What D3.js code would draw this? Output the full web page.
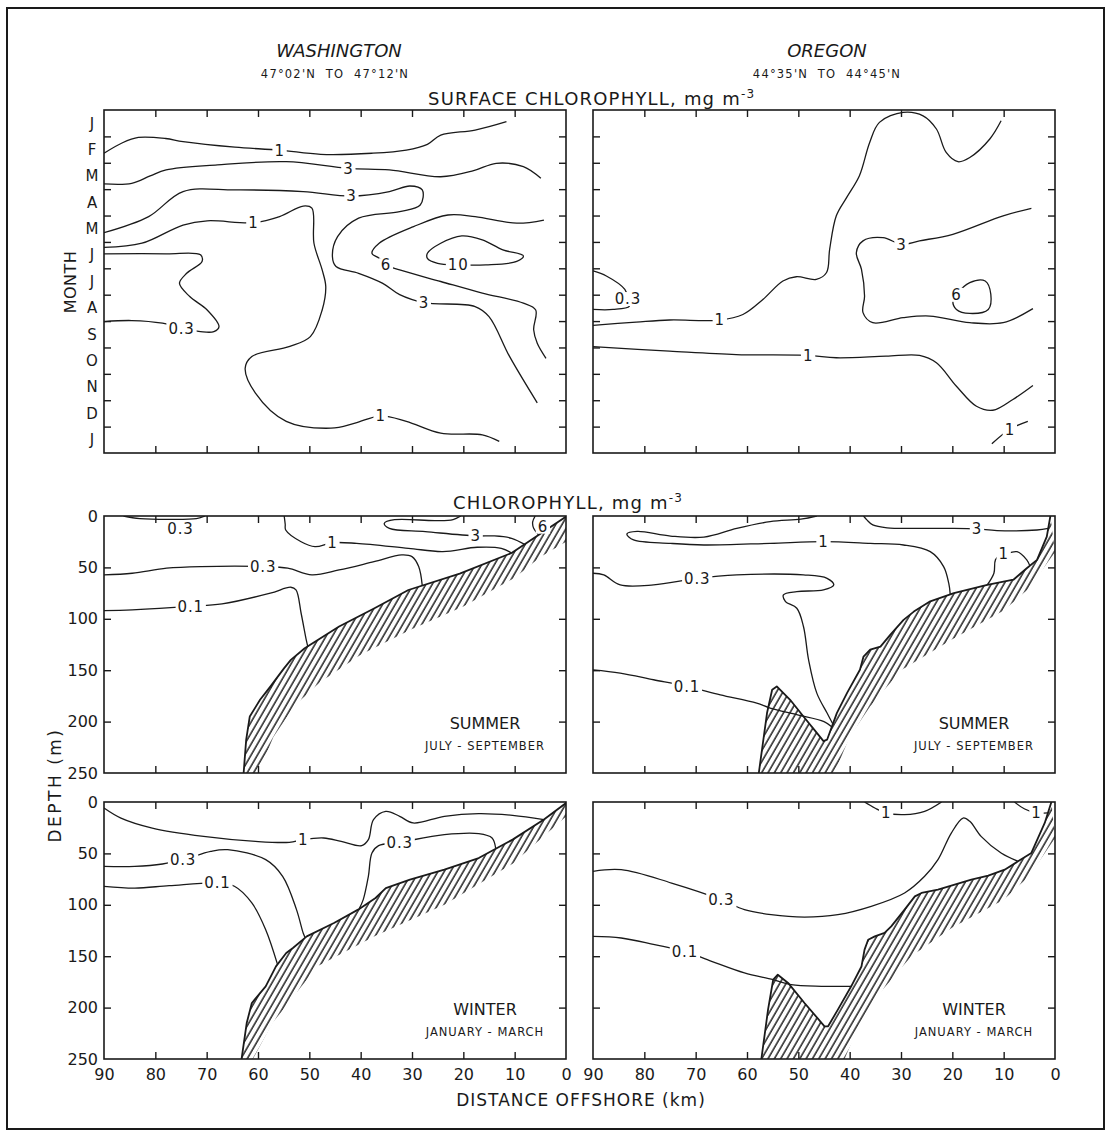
<!DOCTYPE html>
<html><head><meta charset="utf-8">
<script src="https://cdn.jsdelivr.net/npm/d3@7"></script>
<style>
body{margin:0;background:#fff}
svg text{font-family:"DejaVu Sans",sans-serif;fill:#1a1a1a}
</style></head><body>
<svg id="c" width="1112" height="1137"></svg>
<script>
// ---------------- DATA ----------------
const months = ["J","F","M","A","M","J","J","A","S","O","N","D","J"];
const kmTicks = [90,80,70,60,50,40,30,20,10,0];
const depthTicks = [0,50,100,150,200,250];

// Surface chlorophyll, Washington: [km offshore, month index (0 = start Jan)]
const waSurfaceContours = [
 {level:"1", labs:[[55.8,1.52]], pts:[[90,1.64],[86.5,1.25],[83.3,1.04],[78,1.08],[74.6,1.2],[64.5,1.41],[55.8,1.52],[47.8,1.68],[37.8,1.64],[31.1,1.52],[27,1.3],[24.4,0.95],[17.7,0.76],[11.6,0.44]]},
 {level:"3", labs:[[42.4,2.21]], pts:[[90,2.8],[84.6,2.78],[81,2.5],[77.9,2.27],[67.9,2.08],[54.5,1.96],[42.4,2.21],[34.4,2.27],[24.4,2.53],[18,2.3],[13.6,2.02],[8.3,2.15],[4.9,2.59]]},
 {level:"3", labs:[[41.8,3.26],[27.7,7.3]], pts:[[90,4.65],[81.3,4.04],[74.6,3.09],[64.5,3.03],[51.2,3.09],[41.8,3.26],[34.4,3.09],[30.4,2.88],[28,3.03],[28.4,3.6],[32.4,3.85],[40.4,4.1],[44.5,4.8],[45.5,5.56],[44.8,5.93],[40.4,6.19],[35.7,6.57],[32.4,7.0],[27.7,7.3],[17.7,7.45],[15.0,7.83],[11.0,9.34],[5.6,11.1]]},
 {level:"1", labs:[[60.9,4.27],[36.1,11.59]], pts:[[90,5.21],[82.6,5.05],[74.6,4.36],[69.9,4.2],[60.9,4.27],[55.8,4.04],[51.2,3.64],[49.5,3.72],[49.1,5.05],[47.5,6.06],[46.8,6.69],[47.5,7.58],[49.8,8.59],[53.8,8.96],[61.2,9.34],[62.5,9.79],[60.5,10.73],[54.5,11.8],[45.8,12.06],[41.1,11.87],[36.1,11.59],[31.1,11.8],[24.4,12.25],[16.3,12.31],[13.0,12.56]]},
 {level:"0.3", labs:[[74.9,8.27]], pts:[[90,5.45],[77.9,5.45],[71.2,5.49],[70.9,5.74],[73.9,6.19],[75.3,6.57],[73.3,7.07],[69.9,7.58],[67.6,8.21],[68.6,8.4],[71.2,8.4],[74.9,8.27],[78.6,8.08],[84.6,7.98],[90,8.02]]},
 {level:"6", labs:[[35.1,5.87]], pts:[[4.3,4.17],[9.6,4.29],[17.7,4.04],[23.0,3.98],[29.7,4.42],[36.4,5.05],[37.8,5.43],[36.4,5.62],[35.1,5.87],[32.4,6.06],[24.4,6.5],[16.3,6.94],[8.3,7.32],[5.9,7.58],[6.3,8.33],[5.6,8.84],[3.9,9.41]]},
 {level:"10", closed:true, labs:[[21.0,5.87]], pts:[[27.0,5.43],[24.4,5.05],[20.3,4.77],[16.3,4.92],[12.3,5.3],[8.3,5.53],[9.6,5.74],[15.6,5.87],[21.0,5.87],[25.0,5.81],[27.0,5.62]]}
];

// Surface chlorophyll, Oregon
const orSurfaceContours = [
 {level:"1", labs:[[65.3,7.96]], pts:[[90,8.16],[81.6,8.04],[75.1,7.96],[65.3,7.96],[60.8,7.75],[56.9,7.18],[53,6.48],[50.4,6.32],[46.5,6.42],[44.5,6.16],[43.9,5.28],[42.6,4.01],[40.6,3.32],[38.1,2.49],[36.1,1.23],[34.2,0.47],[29.6,0.09],[25.7,0.22],[23.1,0.72],[21.2,1.61],[18.9,1.96],[16.6,1.8],[12.7,1.1],[10.5,0.41]]},
 {level:"1", labs:[[48.1,9.3]], pts:[[90,8.97],[75.1,9.14],[62.1,9.27],[48.1,9.3],[42.6,9.39],[32.9,9.33],[26.4,9.3],[23.1,9.58],[19.2,10.47],[15.3,11.23],[12.1,11.38],[8.2,10.97],[4.3,10.44]]},
 {level:"3", labs:[[29.9,5.09]], pts:[[4.6,3.73],[10.1,4.01],[19.9,4.71],[26.4,4.96],[29.9,5.09],[33.5,4.84],[37.4,4.96],[38.7,5.41],[37.7,6.04],[37.1,7.05],[37.4,7.68],[35.5,8.06],[29.6,7.87],[24.4,7.81],[16.6,8.06],[10.1,8.06],[4.3,7.53]]},
 {level:"6", closed:true, labs:[[19.2,6.99]], pts:[[19.2,6.99],[16.6,6.54],[13.6,6.48],[12.5,6.99],[13.0,7.56],[16.6,7.71],[19.2,7.56],[19.9,7.24]]},
 {level:"0.3", labs:[[83.2,7.15]], pts:[[90,6.1],[87.4,6.29],[83.8,6.8],[83.2,7.15],[82.9,7.43],[86.1,7.56],[90,7.56]]},
 {level:"1", labs:[[8.8,12.1]], pts:[[12.3,12.65],[8.8,12.1],[5.3,11.8]]}
];

// Chlorophyll sections: [km offshore, depth m]
const waSummerBottom = [[0,0.6],[10.6,36],[20.7,56],[30.7,72],[37.4,90],[44.2,107.5],[50.9,128.6],[53.6,140],[54.9,148],[57.6,166],[59.6,178.8],[61.6,195],[62.3,217.6],[62.8,250]];
const waSummerHatchEdge = [[0,25],[5,40],[10,60],[20,88],[30,110],[40,135],[48,162],[53,185],[57,215],[60,250]];
const waSummerContours = [
 {level:"0.3", labs:[[75.1,12.6]], pts:[[86.2,0],[83,2.5],[77,3.3],[72,2.5],[70.3,0]]},
 {level:"1", labs:[[45.5,26]], pts:[[54.9,0],[54.7,8],[54.6,13.6],[51.6,25],[48.9,29.8],[45.5,26],[40.8,26.6],[30.7,31.4],[24,34.6],[17.3,30.4],[12.6,31.4],[10.6,36]]},
 {level:"3", labs:[[17.6,19.4]], pts:[[20.5,0],[22,3.5],[25.4,4.5],[33.4,3.6],[35.4,7.1],[34.4,12],[27.4,15.2],[17.6,19.4],[14,19.4],[10.6,21.7],[7.9,28]]},
 {level:"6", labs:[[4.5,10]], pts:[[6.0,0],[6.5,6],[6.3,12],[5.4,18]]},
 {level:"0.3", labs:[[59,49.2]], pts:[[90,57.3],[84.5,55.7],[77.8,50.8],[71.1,49.2],[59,49.2],[54.2,50.8],[49.5,57.3],[44.2,52.5],[37.4,44.4],[32,37.9],[30,39.5],[28.7,49.2],[28,67.7]]},
 {level:"0.1", labs:[[73.1,88]], pts:[[90,92],[84.5,91.3],[73.1,88],[67,85.5],[57.6,75.1],[53.6,69.3],[52.6,71.9],[51.6,94.6],[50.6,120.5],[50.3,127]]}
];

const orSummerBottom = [[0.9,0],[1.6,20],[3.5,42.7],[5.5,50.8],[8.1,62],[13.2,67],[19.7,75],[24.3,83],[27.5,93],[29.5,101],[32.1,115.6],[34,127],[36,130],[37.3,136.7],[38,149.6],[40.5,172],[42.5,191.7],[44.4,217.6],[45.1,219],[46.4,211],[49,195],[51.6,178.8],[54.2,165.8],[55.1,169],[56.1,191.7],[57.7,250]];
const orSummerHatchEdge = [[0,35],[5,70],[10,92],[20,120],[30,150],[36,185],[40,215],[43,250]];
const orSummerContours = [
 {level:"3", labs:[[15.2,12.6]], pts:[[37.3,0],[36.6,4],[35.5,8.7],[32.7,11.5],[26.2,12],[19.7,12],[15.2,12.6],[11.3,14.2],[3.5,13.6],[1.3,12]]},
 {level:"1", labs:[[45.1,25]], pts:[[46.4,0],[49.5,3],[55.5,5.5],[62,12],[68.4,20.5],[74.9,19.5],[81.4,15],[83.4,17.5],[82.1,23.3],[74.9,26.6],[68.4,28.2],[55.5,26.6],[45.1,25],[36,26.6],[29.5,28.2],[24.3,34.7],[21.7,49.2],[20.7,65.4],[20.4,76.5]]},
 {level:"1", labs:[[10,37]], pts:[[13.2,67],[11.9,55.7],[11.6,42.7],[10.6,37.9],[10,37.5],[7.4,34.7],[5.5,42.7],[4.9,48.5]]},
 {level:"0.3", labs:[[69.7,60.6]], pts:[[90,55.7],[87.9,57.3],[84.7,67],[78.2,67],[69.7,60.6],[62,57.3],[49,57.3],[44.4,60.6],[43.1,67],[45.1,71.9],[50.3,73.5],[52.9,76.7],[52.5,83.2],[50.3,89.7],[49,107.5],[48,140],[46.4,172.3],[44.4,191.7],[43.2,203]]},
 {level:"0.1", labs:[[71.7,165.8]], pts:[[90,149.6],[84.7,152.8],[78.2,159.3],[71.7,165.8],[65.2,173.9],[58.1,182],[55.5,186.8],[50.3,193.3],[45,200],[43.5,205]]}
];

const waWinterBottom = [[0,1],[4.3,17],[10.4,36.6],[17,54.5],[23.7,65.8],[30.4,75.5],[35.1,83.7],[37.1,93.4],[40.5,104.7],[45.2,117.7],[50.5,130.7],[53.2,142],[54.5,146.9],[56.5,159.9],[58.5,179.3],[61.2,195.5],[62.2,215],[63.2,250]];
const waWinterHatchEdge = [[0,14],[10.4,60],[23.7,100],[37.1,130],[48.5,160],[53.2,190],[57.2,215],[61,250]];
const waWinterContours = [
 {level:"1", labs:[[51.2,36.5]], pts:[[90,5.8],[86.7,15.6],[80.6,25.3],[70.6,33.4],[60.5,38.3],[53.9,39.2],[51.2,36.5],[47.2,35],[43.8,38.3],[39.8,42.5],[38.5,36.6],[37.5,17.2],[35.1,9.1],[32.4,13.9],[29.8,20.4],[23.7,13.9],[17,11.3],[10.4,13],[4.3,17.2]]},
 {level:"0.3", labs:[[74.6,56.1]], pts:[[90,62.6],[84,62.6],[78.6,60.3],[74.6,56.1],[69.2,48],[65.9,46.4],[58.5,56.1],[55.2,72.3],[52.5,104.7],[51.2,127.4],[50.8,132]]},
 {level:"0.3", labs:[[32.4,39.2]], pts:[[13.7,45],[14.4,35],[17,30.8],[23.7,31.8],[32.4,39.2],[36.5,42.5],[37.8,49.6],[38.5,72.3],[39.5,95],[40.3,104]]},
 {level:"0.1", labs:[[67.9,78.8]], pts:[[90,82],[84,83.7],[77.3,81.4],[67.9,78.8],[64.6,82],[61.2,98.2],[58.5,124.2],[56.2,158]]}
];

const orWinterBottom = [[0.7,0],[2,20.4],[4.6,49.6],[7.2,57.7],[9.8,65.8],[13,71.7],[16.3,75.5],[22.8,85.3],[26,88.5],[27.3,91.8],[29.3,104.7],[31.9,121],[33.2,127.4],[35.1,130.7],[36.4,134],[37.1,143.6],[37.7,160],[39.7,179.3],[42.3,202],[44.2,218.2],[44.9,218.2],[48.8,195.5],[52,176],[54,168],[54.9,172.8],[55.9,202],[57.2,250]];
const orWinterHatchEdge = [[0,35],[5,72],[10,95],[20,122],[28,150],[34,185],[38,215],[41,250]];
const orWinterContours = [
 {level:"1", labs:[[32.9,10.7]], pts:[[37.1,0],[35.1,5.8],[32.9,10.7],[29.3,12.3],[25.4,9.1],[22.1,0]]},
 {level:"1", labs:[[3.6,10.7]], pts:[[7.9,0],[5.9,6.8],[3.6,10.7],[1.4,10.5]]},
 {level:"0.3", labs:[[65,95]], pts:[[90,67.4],[84.5,65.8],[74.7,78.8],[65,95],[60.5,104.7],[55.3,109.6],[48.8,111.9],[42.3,109.6],[35.8,101.5],[29.3,88.5],[25.4,72.3],[22.8,56.1],[20.2,30.2],[17.9,15.6],[16.6,18.8],[14.4,33.4],[10.5,49.6],[7.2,57.7]]},
 {level:"0.1", labs:[[72.1,145.3]], pts:[[90,130.7],[84.5,132.3],[78,138.8],[72.1,145.3],[66.9,155],[60.5,166.3],[54.9,172.8],[51.4,177.7],[45.5,179.3],[39.7,179.3]]}
];

// ---------------- DRAWING ----------------
const INK = "#1a1a1a";
const svg = d3.select("#c");
const defs = svg.append("defs");
defs.append("pattern").attr("id","hatch").attr("patternUnits","userSpaceOnUse")
  .attr("width",5.5).attr("height",12).attr("patternTransform","rotate(30)")
  .append("line").attr("x1",1).attr("y1",0).attr("x2",1).attr("y2",12)
  .attr("stroke","#000").attr("stroke-width",1.3);

svg.append("rect").attr("x",7).attr("y",8).attr("width",1097).attr("height",1121)
  .attr("fill","none").attr("stroke",INK).attr("stroke-width",2);

let clipN = 0;
function drawPanel(cfg){
  const g = svg.append("g");
  const x = d3.scaleLinear().domain([90,0]).range([cfg.x0,cfg.x1]);
  const y = d3.scaleLinear().domain(cfg.ydom).range([cfg.y0,cfg.y1]);
  const id = "clip"+(clipN++);
  defs.append("clipPath").attr("id",id).append("rect")
    .attr("x",cfg.x0).attr("y",cfg.y0).attr("width",cfg.x1-cfg.x0).attr("height",cfg.y1-cfg.y0);
  const inner = g.append("g").attr("clip-path",`url(#${id})`);
  const lin = d3.line().x(d=>x(d[0])).y(d=>y(d[1]));
  if (cfg.bottom){
    const poly = cfg.bottom.concat(cfg.edge.slice().reverse());
    inner.append("path").attr("d",lin(poly)+"Z").attr("fill","url(#hatch)");
    inner.append("path").attr("d",lin(cfg.bottom)).attr("fill","none")
      .attr("stroke",INK).attr("stroke-width",1.8).attr("stroke-linejoin","round");
  }
  cfg.contours.forEach(c=>{
    const gen = d3.line().x(d=>x(d[0])).y(d=>y(d[1]))
      .curve(c.closed ? d3.curveCatmullRomClosed.alpha(0.5) : d3.curveCatmullRom.alpha(0.5));
    inner.append("path").attr("d",gen(c.pts)).attr("fill","none")
      .attr("stroke",INK).attr("stroke-width",1.3);
  });
  cfg.contours.forEach(c=>{
    c.labs.forEach(p=>{
      const lg = g.append("g");
      const bg = lg.append("rect").attr("fill","#fff");
      const t = lg.append("text").attr("x",x(p[0])).attr("y",y(p[1])).attr("dy","0.36em")
        .attr("text-anchor","middle").attr("font-size",15).attr("letter-spacing",0.8).text(c.level);
      const b = t.node().getBBox();
      bg.attr("x",b.x-2).attr("y",b.y+2).attr("width",b.width+4).attr("height",b.height-4);
    });
  });
  // frame
  g.append("rect").attr("x",cfg.x0).attr("y",cfg.y0).attr("width",cfg.x1-cfg.x0).attr("height",cfg.y1-cfg.y0)
    .attr("fill","none").attr("stroke",INK).attr("stroke-width",1.6);
  const style = s=>{ s.select(".domain").remove(); s.selectAll(".tick line").attr("stroke",INK).attr("stroke-width",1.4);
    s.selectAll("text").attr("font-size",16).attr("fill",INK).attr("font-family","DejaVu Sans"); };
  // x axes
  g.append("g").attr("transform",`translate(0,${cfg.y0})`)
    .call(d3.axisTop(x).tickValues(kmTicks.slice(1,-1)).tickSizeInner(-7).tickSizeOuter(0).tickFormat(""))
    .call(style);
  g.append("g").attr("transform",`translate(0,${cfg.y1})`)
    .call(d3.axisBottom(x).tickValues(cfg.xLabels ? kmTicks : kmTicks.slice(1,-1)).tickSizeInner(-7).tickSizeOuter(0).tickPadding(10)
      .tickFormat(cfg.xLabels ? d3.format("d") : ""))
    .call(style)
    .call(s=>s.selectAll(".tick").filter(d=>d===90||d===0).select("line").remove());
  // y axes
  const yt = cfg.month ? d3.range(1,13) : depthTicks.slice(1,-1);
  g.append("g").attr("transform",`translate(${cfg.x1},0)`)
    .call(d3.axisRight(y).tickValues(yt).tickSizeInner(-7).tickSizeOuter(0).tickFormat("")).call(style);
  if (cfg.month){
    g.append("g").attr("transform",`translate(${cfg.x0},0)`)
      .call(d3.axisLeft(y).tickValues(yt).tickSizeInner(-7).tickSizeOuter(0).tickFormat("")).call(style);
    if (cfg.yLabels){
      g.append("g").attr("transform",`translate(${cfg.x0},0)`)
        .call(d3.axisLeft(y).tickValues(d3.range(13).map(i=>i+0.5)).tickSize(0).tickFormat((d,i)=>months[i]))
        .call(style)
        .call(s=>s.selectAll("text").attr("text-anchor","middle").attr("x",-12).attr("font-size",15));
    }
  } else {
    g.append("g").attr("transform",`translate(${cfg.x0},0)`)
      .call(d3.axisLeft(y).tickValues(cfg.yLabels ? depthTicks : yt).tickSizeInner(-7).tickSizeOuter(0).tickPadding(6)
        .tickFormat(cfg.yLabels ? d3.format("d") : ""))
      .call(style)
      .call(s=>s.selectAll(".tick").filter(d=>d===0||d===250).select("line").remove());
  }
  if (cfg.season){
    const cx = cfg.x1 - 81;
    g.append("text").attr("x",cx).attr("y",cfg.y1-44).attr("text-anchor","middle")
      .attr("font-size",16).text(cfg.season[0]);
    g.append("text").attr("x",cx).attr("y",cfg.y1-23).attr("text-anchor","middle")
      .attr("font-size",11.5).attr("letter-spacing",1).style("white-space","pre").text(cfg.season[1]);
  }
}

const L = {x0:104,x1:566}, R = {x0:593,x1:1055};
const TOP = {y0:110,y1:453,ydom:[0,13],month:true};
const MID = {y0:516,y1:773,ydom:[0,250]};
const BOT = {y0:802,y1:1059,ydom:[0,250]};

drawPanel({...L,...TOP,yLabels:true,contours:waSurfaceContours});
drawPanel({...R,...TOP,contours:orSurfaceContours});
drawPanel({...L,...MID,yLabels:true,contours:waSummerContours,bottom:waSummerBottom,edge:waSummerHatchEdge,season:["SUMMER","JULY - SEPTEMBER"]});
drawPanel({...R,...MID,contours:orSummerContours,bottom:orSummerBottom,edge:orSummerHatchEdge,season:["SUMMER","JULY - SEPTEMBER"]});
drawPanel({...L,...BOT,yLabels:true,xLabels:true,contours:waWinterContours,bottom:waWinterBottom,edge:waWinterHatchEdge,season:["WINTER","JANUARY - MARCH"]});
drawPanel({...R,...BOT,xLabels:true,contours:orWinterContours,bottom:orWinterBottom,edge:orWinterHatchEdge,season:["WINTER","JANUARY - MARCH"]});

// ---------------- TITLES ----------------
function txt(x,y,size,str,opts={}){
  const t = svg.append("text").attr("x",x).attr("y",y).attr("font-size",size)
    .attr("text-anchor",opts.anchor||"middle").style("white-space","pre");
  if (opts.ls) t.attr("letter-spacing",opts.ls);
  if (opts.italic) t.attr("font-style","italic");
  if (opts.rotate) t.attr("transform",`rotate(-90,${x},${y})`);
  t.text(str);
  return t;
}
txt(339,57,18,"WASHINGTON",{italic:true});
txt(335,78,11.5,"47°02'N  TO  47°12'N",{ls:1.2});
txt(827,57,18,"OREGON",{italic:true});
txt(827,78,11.5,"44°35'N  TO  44°45'N",{ls:1.2});

const t1 = txt(428,105,18,"SURFACE CHLOROPHYLL, mg m",{anchor:"start",ls:1.2});
t1.append("tspan").attr("dy",-7).attr("font-size",12).text("-3");
const t2 = txt(453,509,18,"CHLOROPHYLL, mg m",{anchor:"start",ls:1.2});
t2.append("tspan").attr("dy",-7).attr("font-size",12).text("-3");

txt(76,282,16,"MONTH",{rotate:true,ls:0.5});
txt(61,785,17,"DEPTH (m)",{rotate:true,ls:2.5});
txt(581,1106,17,"DISTANCE OFFSHORE (km)",{ls:1});
</script>
</body></html>
